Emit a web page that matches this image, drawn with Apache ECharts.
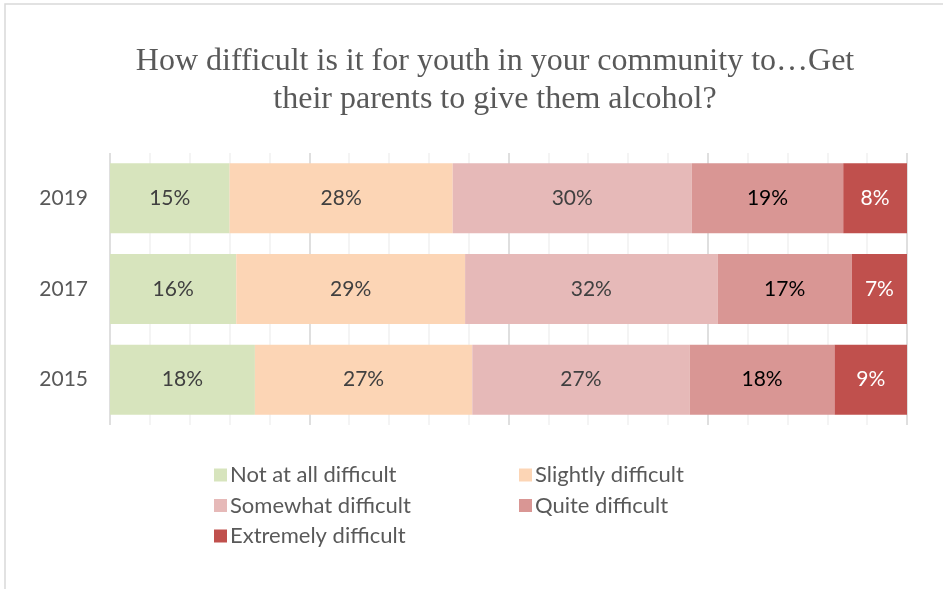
<!DOCTYPE html>
<html>
<head>
<meta charset="utf-8">
<script src="https://cdn.jsdelivr.net/npm/echarts@6/dist/echarts.min.js"></script>
<style>
  html, body { margin: 0; padding: 0; background: #fff; }
  #chart { width: 943px; height: 589px; }
</style>
</head>
<body>
<div id="chart"></div>
<script>
// years, bottom to top
var years = ["2015", "2017", "2019"];
var seriesNames = ["Not at all difficult", "Slightly difficult", "Somewhat difficult", "Quite difficult", "Extremely difficult"];
var notAtAll = [18, 16, 15];
var slightly = [27, 29, 28];
var somewhat = [27, 32, 30];
var quite = [18, 17, 19];
var extremely = [9, 7, 8];
var colors = ["#d7e4bd", "#fcd5b5", "#e6b9b8", "#d99694", "#c0504d"];
var labelColors = ["#404040", "#404040", "#404040", "#000000", "#ffffff"];

var allVals = [notAtAll, slightly, somewhat, quite, extremely];
// 100% stacked: share of each year's total
var totals = years.map(function (y, i) {
  var s = 0;
  allVals.forEach(function (arr) { s += arr[i]; });
  return s;
});

var chart = echarts.init(document.getElementById("chart"));

var series = allVals.map(function (arr, k) {
  return {
    name: seriesNames[k],
    type: "bar",
    stack: "total",
    barWidth: 70,
    itemStyle: { color: colors[k] },
    label: {
      show: true,
      position: "inside",
      color: labelColors[k],
      fontFamily: "Lato",
      fontSize: 21,
      formatter: function (p) { return arr[p.dataIndex] + "%"; }
    },
    data: arr.map(function (v, i) { return v / totals[i] * 100; })
  };
});

var legendText = { fontFamily: "Lato", fontSize: 22, lineHeight: 22, color: "#595959", padding: [0, 0, 0, -2] };

var option = {
  animation: false,
  textStyle: { fontFamily: "Lato" },
  title: {
    text: "How difficult is it for youth in your community to…Get\ntheir parents to give them alcohol?",
    left: 490,
    textAlign: "center",
    top: 38,
    textStyle: {
      fontFamily: "Liberation Serif",
      fontWeight: "normal",
      fontSize: 32,
      lineHeight: 38,
      color: "#595959"
    }
  },
  legend: [
    {
      orient: "vertical",
      left: 209,
      top: 459,
      itemWidth: 13,
      itemHeight: 13,
      itemGap: 8.5,
      icon: "rect",
      textStyle: legendText,
      data: ["Not at all difficult", "Somewhat difficult", "Extremely difficult"]
    },
    {
      orient: "vertical",
      left: 514,
      top: 459,
      itemWidth: 13,
      itemHeight: 13,
      itemGap: 8.5,
      icon: "rect",
      textStyle: legendText,
      data: ["Slightly difficult", "Quite difficult"]
    }
  ],
  grid: { left: 110, right: 36, top: 153, bottom: 164 },
  xAxis: [
    {
      type: "value",
      min: 0,
      max: 100,
      interval: 25,
      axisLabel: { show: false },
      axisLine: { show: false },
      axisTick: { show: false },
      splitLine: { show: true, lineStyle: { color: "#d9d9d9", width: 1.5 } },
      z: 2
    },
    {
      type: "value",
      min: 0,
      max: 100,
      interval: 5,
      axisLabel: { show: false },
      axisLine: { show: false },
      axisTick: { show: false },
      splitLine: { show: true, lineStyle: { color: "#f0f0f0", width: 1.5 } }
    }
  ],
  yAxis: {
    type: "category",
    data: years,
    axisLine: { show: false },
    axisTick: { show: false },
    axisLabel: { color: "#595959", fontFamily: "Lato", fontSize: 21, margin: 22 }
  },
  graphic: [
    {
      type: "rect",
      shape: { x: 5, y: 4, width: 960, height: 620 },
      style: { fill: "none", stroke: "#d9d9d9", lineWidth: 1.5 },
      silent: true
    }
  ],
  series: series
};

chart.setOption(option);
</script>
</body>
</html>
